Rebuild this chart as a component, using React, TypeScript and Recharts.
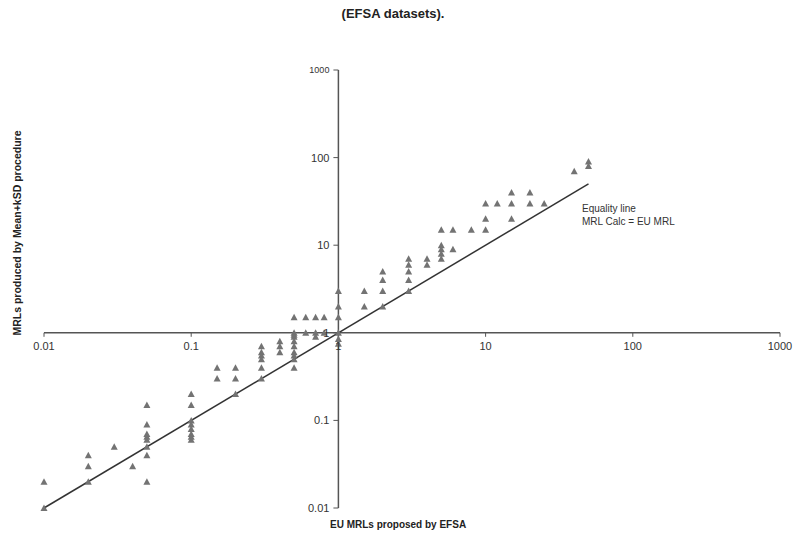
import { ScatterChart, Scatter, XAxis, YAxis, ReferenceLine, ReferenceDot } from "recharts";

// EU MRL (x) and the Mean+kSD MRLs computed for it (y)
const euMrl = [0.01, 0.02, 0.03, 0.04, 0.05, 0.1, 0.15, 0.2, 0.3, 0.4, 0.5, 0.6, 0.7, 0.8, 1, 1.5, 2, 3, 4, 5, 6, 8, 10, 12, 15, 20, 25, 40, 50];
const calcMrl = [
  [0.02, 0.01],
  [0.04, 0.03, 0.02],
  [0.05],
  [0.03],
  [0.15, 0.09, 0.07, 0.065, 0.06, 0.05, 0.04, 0.02],
  [0.2, 0.15, 0.1, 0.09, 0.08, 0.07, 0.065, 0.06],
  [0.4, 0.3],
  [0.4, 0.3, 0.2],
  [0.7, 0.6, 0.55, 0.5, 0.4, 0.3],
  [0.8, 0.7, 0.6],
  [1.5, 1, 0.95, 0.9, 0.8, 0.7, 0.6, 0.55, 0.5, 0.4],
  [1.5, 1],
  [1.5, 1, 0.9],
  [1.5, 1],
  [3, 2, 1.5, 1, 0.85, 0.75],
  [3, 2],
  [5, 4, 3, 2],
  [7, 6, 5, 4, 3],
  [7, 6],
  [15, 10, 9, 8, 7],
  [15, 9],
  [15],
  [30, 20, 15],
  [30],
  [40, 30, 20],
  [40, 30],
  [30],
  [70],
  [90, 80],
];
const ticks = [0.01, 0.1, 1, 10, 100, 1000];
const equalityLine = [0.01, 50];

const points = euMrl.flatMap((x, i) => calcMrl[i].map((y) => ({ x, y })));

const GREY = "#737373";
const AXIS = "#555";

function Triangle(props: any) {
  const { cx, cy } = props;
  if (cx == null || cy == null) return null;
  return <polygon points={`${cx - 3.5},${cy + 3} ${cx + 3.5},${cy + 3} ${cx},${cy - 3.5}`} fill={GREY} />;
}

export default function App() {
  return (
    <div style={{ position: "absolute", left: 0, top: 0, width: 799, height: 541, background: "#fff", fontFamily: "Arial, 'Liberation Sans', sans-serif" }}>
      <div style={{ position: "absolute", top: 6, left: 0, width: 786, textAlign: "center", fontWeight: "bold", fontSize: 13, color: "#222" }}>
        (EFSA datasets).
      </div>
      <ScatterChart width={799} height={541} margin={{ top: 70, right: 19, bottom: 33, left: 44 }}>
        <XAxis type="number" dataKey="x" scale="log" domain={[0.01, 1000]} hide />
        <YAxis type="number" dataKey="y" scale="log" domain={[0.01, 1000]} hide />
        <ReferenceLine y={1} stroke={AXIS} strokeWidth={1.5} />
        <ReferenceLine x={1} stroke={AXIS} strokeWidth={1.5} />
        {ticks.map((t) => (
          <ReferenceLine key={"xt" + t} segment={[{ x: t, y: 1 }, { x: t, y: 0.9 }]} stroke={AXIS} />
        ))}
        {ticks.map((t) => (
          <ReferenceLine key={"yt" + t} segment={[{ x: 1, y: t }, { x: 0.925, y: t }]} stroke={AXIS} />
        ))}
        {ticks.map((t) => (
          <ReferenceDot key={"xl" + t} x={t} y={1} r={0} fill="none" stroke="none"
            label={{ value: String(t), position: "bottom", offset: 9, fontSize: 11, fill: "#333" }} />
        ))}
        {ticks.map((t) => (
          <ReferenceDot key={"yl" + t} x={1} y={t} r={0} fill="none" stroke="none"
            label={{ value: String(t), position: "left", offset: 9, fontSize: t === 1000 ? 9 : 11, fill: "#333" }} />
        ))}
        <ReferenceLine
          segment={[{ x: equalityLine[0], y: equalityLine[0] }, { x: equalityLine[1], y: equalityLine[1] }]}
          stroke="#333"
          strokeWidth={1.5}
        />
        <Scatter data={points} shape={<Triangle />} isAnimationActive={false} />
      </ScatterChart>
      <div style={{ position: "absolute", left: 582, top: 202, fontSize: 10, color: "#333", lineHeight: "13px" }}>
        Equality line
        <br />
        MRL Calc = EU MRL
      </div>
      <div style={{ position: "absolute", left: 330, top: 519, fontSize: 10, fontWeight: "bold", color: "#222" }}>
        EU MRLs proposed by EFSA
      </div>
      <div style={{ position: "absolute", left: 17, top: 233, width: 0, height: 0 }}>
        <div style={{ position: "absolute", transform: "translate(-50%, -50%) rotate(-90deg)", whiteSpace: "nowrap", fontSize: 10.5, fontWeight: "bold", color: "#222" }}>
          MRLs produced by Mean+kSD procedure
        </div>
      </div>
    </div>
  );
}
